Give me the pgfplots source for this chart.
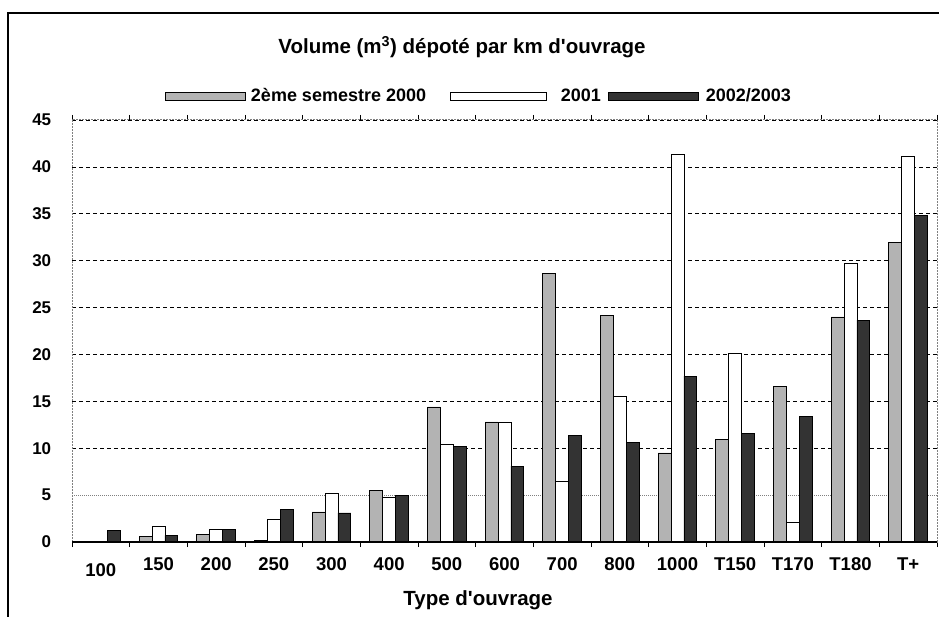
\documentclass[border=0pt]{standalone}
\usepackage{pgfplots}
\usepackage{pgfplotstable}
\pgfplotsset{compat=1.18}
\usepackage{fontspec}
\setmainfont{Liberation Sans}
\definecolor{gA}{HTML}{B3B3B3}
\definecolor{gC}{HTML}{333333}
\pgfplotstableread{
x a b c
0 0 0 1.2
1 0.6 1.7 0.7
2 0.8 1.3 1.3
3 0.15 2.4 3.5
4 3.2 5.2 3.1
5 5.45 4.75 5.0
6 14.4 10.4 10.15
7 12.8 12.8 8.1
8 28.6 6.5 11.4
9 24.2 15.5 10.6
10 9.5 41.35 17.7
11 10.9 20.1 11.6
12 16.6 2.1 13.4
13 24.0 29.7 23.65
14 31.9 41.1 34.8
}\data
\begin{document}
\begin{tikzpicture}[x=1pt,y=1pt]
\useasboundingbox (0,0) rectangle (939,616);
\draw[line width=2pt] (8,-5) -- (8,603) -- (950,603);
\node[font=\fontsize{20.5}{24}\selectfont\bfseries] at (462,569) {Volume (m\textsuperscript{3}) dépoté par km d\textquotesingle ouvrage};
\node[font=\fontsize{20.5}{24}\selectfont\bfseries] at (478,16) {Type d\textquotesingle ouvrage};
\begin{axis}[
  at={(72pt,74pt)}, anchor=south west, scale only axis,
  width=865pt, height=422pt,
  xmin=-0.5, xmax=14.5, ymin=0, ymax=45,
  ybar=0pt, bar width=12.9pt,
  axis line style={draw=gray, line width=1pt, dash pattern=on 2pt off 1pt},
  ytick={0,10,15,20,25,30,35,40,45},
  extra y ticks={5},
  extra y tick style={grid style={draw=gray, line width=0.8pt, dash pattern=on 1pt off 1pt}},
  ymajorgrids,
  grid style={draw=black, line width=0.7pt, dash pattern=on 4pt off 3pt},
  ytick style={draw=none},
  xtick={0,...,14},
  xticklabels={\raisebox{-6pt}{100},150,200,250,300,400,500,600,700,800,1000,T150,T170,T180,T+},
  minor xtick={-0.5,0.5,...,14.5},
  major x tick style={draw=none},
  minor x tick style={draw=black, line width=0.8pt, solid},
  tick align=outside, minor tick length=5pt,
  /pgf/number format/assume math mode=true,
  yticklabel style={xshift=-13pt, font=\fontsize{17}{20}\selectfont\bfseries},
  xticklabel style={yshift=-8pt, text height=13pt, text depth=0pt, font=\fontsize{18.5}{22}\selectfont\bfseries},
  legend columns=3,
  legend style={draw=none, fill=none, inner sep=0pt, at={(0.1075,1.0569)}, anchor=west,
    font=\fontsize{18}{21}\selectfont\bfseries,
    nodes={inner sep=0pt},
    /tikz/column 1/.style={column sep=5pt},
    /tikz/column 2/.style={column sep=24pt},
    /tikz/column 3/.style={column sep=14pt},
    /tikz/column 4/.style={column sep=7pt},
    /tikz/column 5/.style={column sep=7pt}},
]
\addplot[fill=gA, draw=black, line width=0.8pt,
  legend image code/.code={\draw[fill=gA, draw=black, line width=0.8pt] (0pt,-4pt) rectangle (80pt,4pt);}]
  table[x=x,y=a]{\data};
\addplot[fill=white, draw=black, line width=0.8pt,
  legend image code/.code={\draw[fill=white, draw=black, line width=0.8pt] (0pt,-4pt) rectangle (96pt,4pt);}]
  table[x=x,y=b]{\data};
\addplot[fill=gC, draw=black, line width=0.8pt,
  legend image code/.code={\draw[fill=gC, draw=black, line width=0.8pt] (0pt,-4pt) rectangle (90pt,4pt);}]
  table[x=x,y=c]{\data};
\legend{2ème semestre 2000, 2001, 2002/2003}
\draw[black, line width=1.2pt] (axis cs:-0.5,0) -- (axis cs:14.5,0);
\end{axis}
\end{tikzpicture}
\end{document}
